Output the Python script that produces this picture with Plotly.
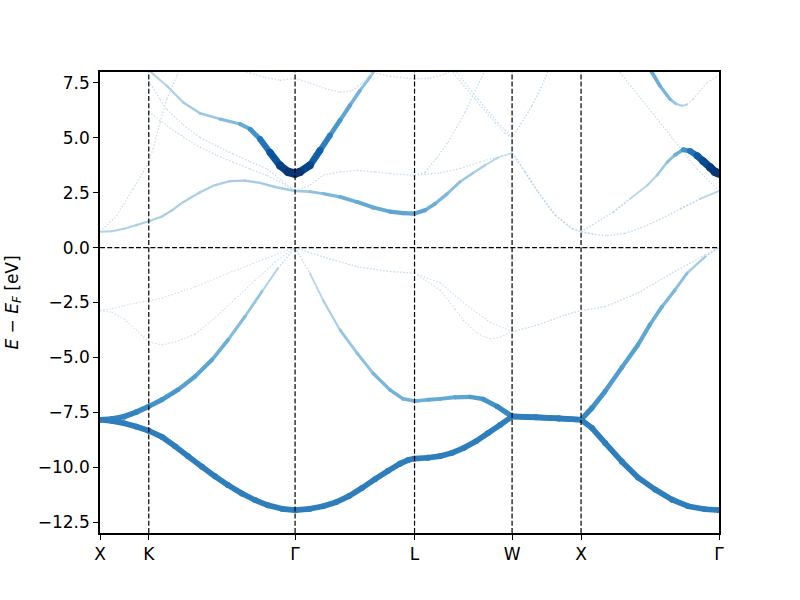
import plotly.graph_objects as go

# ---- axis / tick data -------------------------------------------------
K_TICKS = [0.0, 0.3536, 1.4142, 2.2802, 2.9873, 3.4873, 4.4873]
K_LABELS = ["X", "K", "Γ", "L", "W", "X", "Γ"]
Y_TICKS = [-12.5, -10.0, -7.5, -5.0, -2.5, 0.0, 2.5, 5.0, 7.5]
Y_LABELS = ["−12.5", "−10.0", "−7.5", "−5.0", "−2.5", "0.0", "2.5", "5.0", "7.5"]
Y_RANGE = [-13, 8]

# ---- valence bands ----------------------------------------------------
v1_k = [0, 0.087, 0.174, 0.261, 0.3536, 0.449, 0.544, 0.638, 0.739, 0.834, 0.928, 1.029, 1.124, 1.218, 1.319, 1.4142,
        1.522, 1.617, 1.711, 1.805, 1.899, 1.994, 2.088, 2.175, 2.233, 2.2802, 2.378, 2.465, 2.552, 2.639, 2.726, 2.813,
        2.900, 2.9873, 3.161, 3.328, 3.4873, 3.567, 3.661, 3.784, 3.900, 4.024, 4.147, 4.263, 4.386, 4.4873]
v1_e = [-7.84, -7.9, -8.0, -8.15, -8.34, -8.62, -9.05, -9.5, -9.98, -10.42, -10.82, -11.2, -11.5, -11.74, -11.9, -11.96,
        -11.9, -11.78, -11.6, -11.32, -10.95, -10.55, -10.17, -9.84, -9.68, -9.61, -9.57, -9.5, -9.35, -9.12, -8.82, -8.45,
        -8.08, -7.69, -7.73, -7.78, -7.84, -8.22, -8.89, -9.75, -10.47, -11.02, -11.48, -11.78, -11.92, -11.96]
v1_w = [0.62] * 46

v2_k = [0, 0.087, 0.174, 0.261, 0.3536, 0.449, 0.565, 0.689, 0.812, 0.928, 1.051, 1.174, 1.290, 1.4142,
        1.522, 1.617, 1.740, 1.863, 1.979, 2.102, 2.197, 2.2802, 2.378, 2.465, 2.574, 2.682, 2.777, 2.878, 2.9873,
        3.161, 3.328, 3.4873, 3.567, 3.661, 3.784, 3.900, 3.987, 4.074, 4.168, 4.256, 4.386, 4.4873]
v2_e = [-7.84, -7.8, -7.7, -7.5, -7.23, -6.93, -6.48, -5.87, -5.11, -4.2, -3.14, -2.0, -0.94, 0.0,
        -1.17, -2.39, -3.75, -4.8, -5.72, -6.48, -6.89, -6.99, -6.93, -6.89, -6.82, -6.8, -6.9, -7.23, -7.69,
        -7.73, -7.78, -7.84, -7.3, -6.55, -5.45, -4.43, -3.5, -2.69, -1.93, -1.16, -0.42, 0.0]
v2_w = [0.6, 0.6, 0.6, 0.58, 0.55, 0.52, 0.48, 0.44, 0.4, 0.34, 0.28, 0.2, 0.12, 0.05,
        0.1, 0.15, 0.22, 0.27, 0.3, 0.33, 0.35, 0.36, 0.38, 0.4, 0.42, 0.45, 0.5, 0.55, 0.6,
        0.6, 0.6, 0.6, 0.55, 0.5, 0.47, 0.43, 0.4, 0.35, 0.3, 0.25, 0.15, 0.05]

v3_k = [0, 0.087, 0.174, 0.261, 0.3536, 0.449, 0.544, 0.689, 0.834, 0.979, 1.124, 1.269, 1.4142,
        1.617, 1.863, 2.102, 2.2802, 2.465, 2.574, 2.632, 2.733, 2.827, 2.900, 2.9873,
        3.175, 3.371, 3.4873, 3.661, 3.900, 4.147, 4.386, 4.4873]
v3_e = [-2.87, -2.95, -3.25, -3.75, -4.3, -4.43, -4.3, -3.95, -3.2, -2.35, -1.5, -0.65, 0.0,
        -0.42, -0.87, -1.09, -1.16, -1.93, -2.8, -3.3, -3.9, -4.16, -4.08, -3.83,
        -3.52, -3.07, -2.87, -2.69, -2.07, -1.16, -0.34, 0.0]
v3_w = [0.03] * 32

v4_k = [0, 0.087, 0.174, 0.261, 0.3536, 0.449, 0.689, 0.928, 1.174, 1.4142, 1.617, 1.863, 2.102, 2.2802,
        2.465, 2.632, 2.827, 2.9873, 3.175, 3.371, 3.4873, 3.661, 3.900, 4.147, 4.386, 4.4873]
v4_e = [-2.87, -2.78, -2.65, -2.52, -2.42, -2.3, -1.78, -1.17, -0.57, 0.0, -0.42, -0.87, -1.09, -1.16,
        -1.6, -2.5, -3.4, -3.83, -3.52, -3.07, -2.87, -2.69, -2.07, -1.16, -0.34, 0.0]
v4_w = [0.03] * 26

# ---- conduction bands -------------------------------------------------
c5_k = [0, 0.087, 0.174, 0.261, 0.3536, 0.449, 0.522, 0.602, 0.725, 0.834, 0.942, 1.051, 1.160, 1.269, 1.4142,
        1.522, 1.617, 1.740, 1.863, 1.979, 2.102, 2.197, 2.2802, 2.356, 2.429, 2.516, 2.610, 2.704, 2.791, 2.885,
        2.9873, 3.081, 3.175, 3.299, 3.422, 3.4873, 3.589, 3.676, 3.806, 3.966, 4.096, 4.205, 4.350, 4.4873]
c5_e = [0.72, 0.75, 0.86, 1.02, 1.2, 1.42, 1.7, 2.07, 2.52, 2.85, 3.03, 3.05, 2.95, 2.76, 2.58,
        2.55, 2.46, 2.31, 2.08, 1.83, 1.64, 1.57, 1.55, 1.7, 2.0, 2.45, 3.0, 3.4, 3.75, 4.1,
        4.32, 3.45, 2.54, 1.48, 0.87, 0.72, 0.6, 0.55, 0.65, 1.01, 1.4, 1.76, 2.22, 2.58]
c5_w = [0.15, 0.15, 0.15, 0.16, 0.17, 0.18, 0.18, 0.18, 0.18, 0.18, 0.19, 0.19, 0.2, 0.2, 0.2,
        0.25, 0.3, 0.35, 0.38, 0.4, 0.42, 0.43, 0.43, 0.4, 0.35, 0.3, 0.25, 0.2, 0.15, 0.12,
        0.1, 0.1, 0.1, 0.1, 0.1, 0.1, 0.08, 0.08, 0.08, 0.08, 0.08, 0.08, 0.1, 0.15]

c6_k = [0, 0.121, 0.239, 0.312, 0.3536, 0.384, 0.435, 0.484, 0.558, 0.580]
c6_e = [0.72, 1.46, 2.67, 3.43, 3.89, 4.49, 5.7, 6.77, 7.83, 8.3]
c6_w = [0.05] * 10

c7a_k = [0.3536, 0.435, 0.484, 0.602, 0.725, 0.848, 0.964, 1.087, 1.211, 1.319, 1.4142]
c7a_e = [7.6, 6.75, 6.3, 5.6, 5.02, 4.62, 4.27, 3.92, 3.58, 3.05, 2.58]
c7a_w = [0.04] * 11

c7b_k = [0.3536, 0.484, 0.602, 0.725, 0.848, 0.964, 1.087, 1.211, 1.319, 1.4142]
c7b_e = [6.2, 5.55, 5.05, 4.57, 4.2, 3.89, 3.58, 3.28, 2.95, 2.58]
c7b_w = [0.04] * 10

c8_k = [0.3536, 0.370, 0.386, 0.484, 0.604, 0.725, 0.870, 1.015, 1.087, 1.160, 1.232, 1.305, 1.363, 1.4142,
        1.450, 1.522, 1.595, 1.667, 1.740, 1.812, 1.885, 1.957, 1.994]
c8_e = [8.1, 8.0, 7.9, 7.37, 6.61, 6.12, 5.86, 5.63, 5.4, 4.95, 4.34, 3.74, 3.45, 3.37,
        3.45, 3.75, 4.43, 5.11, 5.8, 6.48, 7.16, 7.76, 8.1]
c8_w = [0.15, 0.15, 0.15, 0.16, 0.18, 0.2, 0.25, 0.35, 0.45, 0.6, 0.75, 0.88, 0.95, 1.0,
        0.95, 0.85, 0.7, 0.55, 0.45, 0.38, 0.3, 0.25, 0.22]

cD_k = [3.4873, 3.719, 3.842, 3.966, 4.038, 4.111, 4.168, 4.227, 4.277, 4.328, 4.371, 4.422, 4.458, 4.4873]
cD_e = [0.72, 1.61, 2.22, 2.83, 3.3, 3.89, 4.22, 4.46, 4.4, 4.19, 3.95, 3.66, 3.45, 3.37]
cD_w = [0.06, 0.08, 0.1, 0.14, 0.18, 0.25, 0.32, 0.45, 0.6, 0.75, 0.85, 0.92, 0.97, 1.0]

cTR_k = [3.973, 4.002, 4.059, 4.132, 4.175, 4.219, 4.256, 4.299, 4.400, 4.4873]
cTR_e = [8.3, 7.98, 7.37, 6.76, 6.55, 6.46, 6.52, 6.76, 7.52, 7.83]
cTR_w = [0.4, 0.4, 0.37, 0.3, 0.22, 0.15, 0.1, 0.07, 0.05, 0.04]

cD5_k = [3.734, 3.770, 3.963, 4.154, 4.328, 4.4873]
cD5_e = [8.3, 7.98, 6.46, 4.95, 3.58, 2.58]
cD5_w = [0.04] * 6

cWX_k = [2.9873, 3.132, 3.226, 3.248]
cWX_e = [4.98, 6.46, 7.67, 8.05]
cWX_w = [0.07] * 4

cLWa_k = [2.523, 2.559, 2.719, 2.864, 2.936, 2.9873]
cLWa_e = [8.3, 7.98, 6.76, 5.7, 5.2, 4.98]
cLWa_w = [0.05] * 6

cLWb_k = [2.550, 2.585, 2.740, 2.885, 2.9873]
cLWb_e = [8.3, 7.98, 6.76, 5.7, 4.98]
cLWb_w = [0.05] * 5

cLup_k = [2.2802, 2.356, 2.443, 2.523, 2.646, 2.767, 2.791]
cLup_e = [3.3, 3.43, 4.1, 4.8, 6.16, 7.75, 8.1]
cLup_w = [0.04] * 7

cLflat_k = [2.2802, 2.465, 2.610, 2.755, 2.900, 2.9873]
cLflat_e = [3.3, 3.4, 3.6, 3.9, 4.15, 4.3]
cLflat_w = [0.04] * 6

cGL3_k = [1.4142, 1.522, 1.617, 1.740, 1.863, 1.994, 2.102, 2.2802]
cGL3_e = [2.58, 2.85, 3.3, 3.45, 3.52, 3.45, 3.37, 3.3]
cGL3_w = [0.04] * 8

cG77_k = [1.015, 1.087, 1.196, 1.305, 1.4142, 1.522, 1.631, 1.740, 1.827, 1.899, 1.957, 1.979]
cG77_e = [8.1, 7.95, 7.75, 7.62, 7.7, 7.5, 7.25, 7.08, 7.15, 7.5, 7.84, 8.1]
cG77_w = [0.04] * 12

cL76_k = [1.957, 2.102, 2.2802, 2.392, 2.501, 2.552]
cL76_e = [8.0, 7.8, 7.69, 7.72, 7.9, 8.1]
cL76_w = [0.04] * 6

CURVES = [
    (v1_k, v1_e, v1_w), (v2_k, v2_e, v2_w), (v3_k, v3_e, v3_w), (v4_k, v4_e, v4_w),
    (c5_k, c5_e, c5_w), (c6_k, c6_e, c6_w), (c7a_k, c7a_e, c7a_w), (c7b_k, c7b_e, c7b_w),
    (c8_k, c8_e, c8_w), (cD_k, cD_e, cD_w), (cTR_k, cTR_e, cTR_w), (cD5_k, cD5_e, cD5_w),
    (cWX_k, cWX_e, cWX_w), (cLWa_k, cLWa_e, cLWa_w), (cLWb_k, cLWb_e, cLWb_w),
    (cLup_k, cLup_e, cLup_w), (cLflat_k, cLflat_e, cLflat_w), (cGL3_k, cGL3_e, cGL3_w),
    (cG77_k, cG77_e, cG77_w), (cL76_k, cL76_e, cL76_w),
]

# ---- styling helpers --------------------------------------------------
BLUES = [(247, 251, 255), (222, 235, 247), (198, 219, 239), (158, 202, 225), (107, 174, 214),
         (66, 146, 198), (33, 113, 181), (8, 81, 156), (8, 48, 107)]


def blues(t):
    t = min(max(t, 0.0), 1.0) * (len(BLUES) - 1)
    i = min(int(t), len(BLUES) - 2)
    f = t - i
    a, b = BLUES[i], BLUES[i + 1]
    return "rgb(%d,%d,%d)" % tuple(round(a[j] + (b[j] - a[j]) * f) for j in range(3))


def size_of(w):
    return 0.9 + 7.6 * w


def color_of(w):
    return blues(0.2 + 0.8 * w)


# group segments by quantised weight
groups = {}
for ks, es, ws in CURVES:
    for i in range(len(ks) - 1):
        q = round(((ws[i] + ws[i + 1]) / 2) * 40) / 40
        gx, gy = groups.setdefault(q, ([], []))
        gx += [ks[i], ks[i + 1], None]
        gy += [es[i], es[i + 1], None]

fig = go.Figure()
for q in sorted(groups):
    gx, gy = groups[q]
    faint = q < 0.09
    dotted = q < 0.125
    if faint:
        dash = "1.5px,1.8px"
    elif dotted:
        dash = "2px,1.5px"
    else:
        dash = "solid"
    fig.add_trace(go.Scatter(
        x=gx, y=gy,
        mode="lines" if dotted else "lines+markers",
        line=dict(width=size_of(q), color=color_of(q), dash=dash),
        marker=dict(size=size_of(q), color=color_of(q), line=dict(width=0)),
        hoverinfo="skip", showlegend=False,
    ))

# dashed guide lines
shapes = []
for kx in K_TICKS[1:-1]:
    shapes.append(dict(type="line", xref="x", yref="paper", x0=kx, x1=kx, y0=0, y1=1,
                       line=dict(color="black", width=1.2, dash="5px,2.2px"), layer="above"))
shapes.append(dict(type="line", xref="paper", yref="y", x0=0, x1=1, y0=0, y1=0,
                   line=dict(color="black", width=1.2, dash="5px,2.2px"), layer="above"))

FONT = dict(family="DejaVu Sans", size=17, color="black")
fig.update_layout(
    width=800, height=600,
    margin=dict(l=100, r=81, t=72, b=67),
    paper_bgcolor="white", plot_bgcolor="white",
    font=FONT,
    shapes=shapes,
    xaxis=dict(range=[K_TICKS[0], K_TICKS[-1]], tickmode="array", tickvals=K_TICKS, ticktext=K_LABELS,
               ticks="outside", ticklen=5, tickwidth=1.1, tickcolor="black",
               showline=True, linecolor="black", linewidth=1.5, mirror=True,
               showgrid=False, zeroline=False, tickfont=FONT),
    yaxis=dict(range=Y_RANGE, tickmode="array", tickvals=Y_TICKS, ticktext=Y_LABELS,
               ticks="outside", ticklen=5, tickwidth=1.1, tickcolor="black",
               showline=True, linecolor="black", linewidth=1.5, mirror=True,
               showgrid=False, zeroline=False, tickfont=FONT),
    annotations=[dict(text="<i>E</i> − <i>E</i><sub><i>F</i></sub> [eV]", xref="paper", yref="paper",
                      x=-0.1405, y=0.5, xanchor="center", yanchor="middle", textangle=-90,
                      showarrow=False, font=FONT)],
)

fig.write_html("out.html", config={"displayModeBar": False},
               post_script="document.body.style.margin='0';document.body.style.overflow='hidden';")
